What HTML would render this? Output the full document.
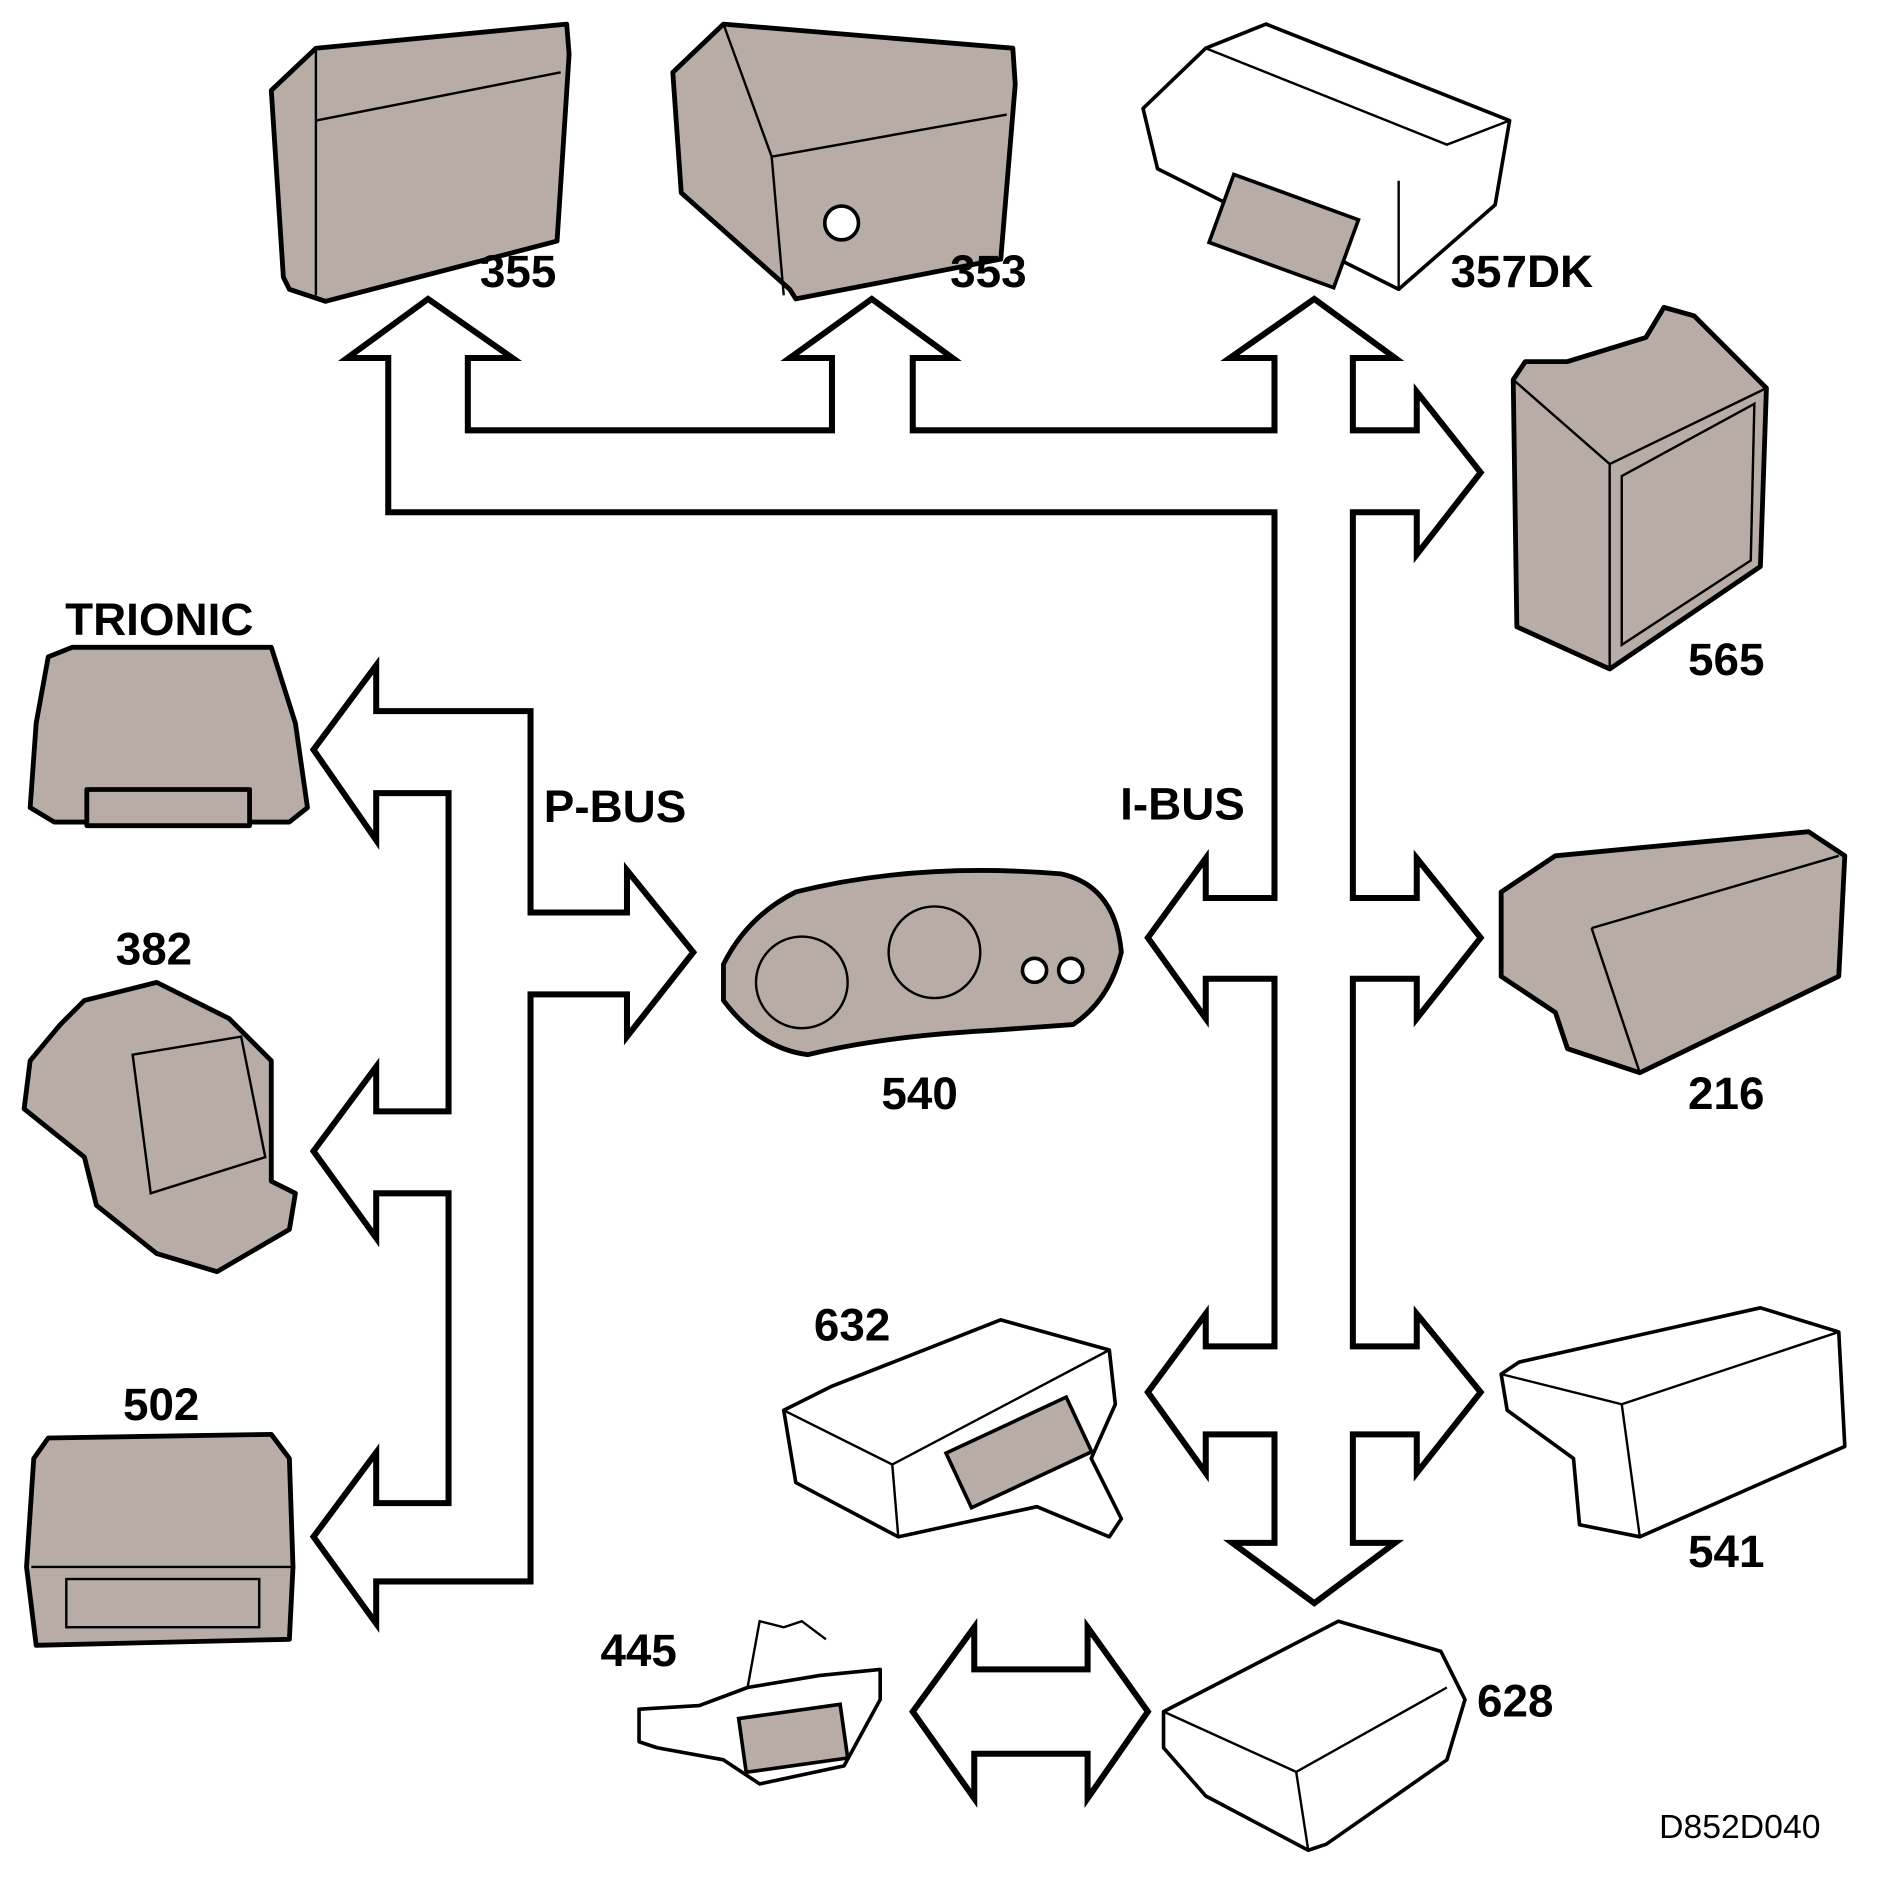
<!DOCTYPE html>
<html><head><meta charset="utf-8"><style>
html,body{margin:0;padding:0;background:#fff}
svg{display:block}
text{font-family:"Liberation Sans",sans-serif;font-weight:bold;fill:#000}
.d{fill:#b8aca7;stroke:#000;stroke-width:4;stroke-linejoin:round}
.w{fill:#fff;stroke:#000;stroke-width:3;stroke-linejoin:round}
.l{fill:none;stroke:#000;stroke-width:2}
</style></head><body>
<svg width="1887" height="1890" viewBox="0 0 1565 1568" preserveAspectRatio="none" xmlns="http://www.w3.org/2000/svg">
<g fill="#fff" stroke="#000" stroke-width="5" stroke-linejoin="miter">
<polygon points="322,297 288,297 355,248 425,297 388,297 388,357 690,357 690,297 655,297 723,248 790,297 757,297 757,357 1057,357 1057,297 1020,297 1090,248 1157,297 1122,297 1122,357 1175,357 1175,325 1228,392 1175,460 1175,425 1122,425 1122,745 1175,745 1175,712 1228,778 1175,845 1175,812 1122,812 1122,1117 1175,1117 1175,1090 1228,1155 1175,1222 1175,1190 1122,1190 1122,1280 1157,1280 1090,1330 1022,1280 1057,1280 1057,1190 1000,1190 1000,1222 952,1155 1000,1090 1000,1117 1057,1117 1057,812 1000,812 1000,845 952,778 1000,712 1000,745 1057,745 1057,425 322,425"/>
<polygon points="312,590 312,552 260,622 312,697 312,658 372,658 372,922 312,922 312,885 260,955 312,1027 312,990 372,990 372,1247 312,1247 312,1205 260,1275 312,1347 312,1312 440,1312 440,825 520,825 520,860 575,790 520,722 520,757 440,757 440,590"/>
<polygon points="757,1420 808,1350 808,1385 902,1385 902,1350 952,1420 902,1492 902,1455 808,1455 808,1492"/>
</g>
<polygon class="d" points="225,75 262,40 470,20 472,45 462,200 270,250 240,240 235,230"/>
<polyline class="l" points="262,40 262,245"/><polyline class="l" points="262,100 465,60"/>
<polygon class="d" points="558,60 600,20 840,40 842,70 830,215 660,248 655,240 565,160"/>
<polyline class="l" points="600,20 640,130 650,245"/><polyline class="l" points="640,130 835,95"/>
<circle cx="698" cy="185" r="14" class="w"/>
<polygon class="w" points="948,90 1000,40 1050,20 1252,100 1240,170 1160,240 960,140"/>
<polyline class="l" points="1000,40 1200,120 1252,100"/><polyline class="l" points="1160,240 1160,150"/>
<rect x="1010" y="160" width="110" height="60" fill="#b8aca7" stroke="#000" stroke-width="3" transform="rotate(20 1060 190)"/>
<polygon class="d" points="1255,315 1265,300 1300,300 1365,280 1380,255 1405,262 1465,322 1460,470 1335,555 1258,520"/>
<polyline class="l" points="1255,315 1335,385 1465,322"/><polyline class="l" points="1335,385 1335,555"/>
<polygon class="l" points="1345,395 1455,335 1452,465 1345,535"/>
<polygon class="d" points="40,545 60,537 225,537 245,600 255,670 240,682 45,682 25,670 30,600"/>
<rect x="72" y="655" width="135" height="30" class="d"/>
<polygon class="d" points="50,850 70,830 130,815 190,845 225,880 225,980 245,990 240,1020 180,1055 130,1040 80,1000 70,960 20,920 25,880"/>
<polygon class="l" points="110,875 200,860 220,960 125,990"/>
<polygon class="d" points="40,1193 225,1190 240,1210 243,1300 240,1360 30,1365 22,1300 28,1210"/>
<polyline class="l" points="26,1300 243,1300"/><rect x="55" y="1310" width="160" height="40" class="l"/>
<path class="d" d="M600,800 Q620,760 660,740 Q760,715 880,725 Q925,735 930,790 Q920,830 890,850 L820,855 Q730,860 670,875 Q630,870 600,830 Z"/>
<circle cx="775" cy="790" r="38" class="l"/><circle cx="665" cy="815" r="38" class="l"/>
<circle cx="858" cy="805" r="10" class="w"/><circle cx="888" cy="805" r="10" class="w"/>
<polygon class="d" points="1245,740 1290,710 1500,690 1530,710 1525,810 1360,890 1300,870 1290,840 1245,810"/>
<polyline class="l" points="1320,770 1525,710"/><polyline class="l" points="1320,770 1360,890"/>
<polygon class="w" points="650,1170 690,1150 830,1095 920,1120 925,1165 905,1210 930,1260 920,1275 860,1250 745,1275 660,1230"/>
<polyline class="l" points="650,1170 740,1215 920,1120"/><polyline class="l" points="740,1215 745,1275"/>
<rect x="790" y="1180" width="110" height="50" fill="#b8aca7" stroke="#000" stroke-width="3" transform="rotate(-25 845 1205)"/>
<polygon class="w" points="1245,1140 1260,1130 1460,1085 1525,1105 1530,1200 1360,1275 1310,1265 1305,1210 1250,1170"/>
<polyline class="l" points="1245,1140 1345,1165 1525,1105"/><polyline class="l" points="1345,1165 1360,1275"/>
<polygon class="w" points="965,1420 1110,1345 1195,1370 1215,1410 1200,1460 1100,1530 1085,1535 1000,1490 965,1450"/>
<polyline class="l" points="965,1420 1075,1470 1200,1400"/><polyline class="l" points="1075,1470 1085,1535"/>
<polygon class="w" points="530,1418 580,1415 620,1400 680,1390 730,1385 730,1410 700,1465 630,1480 600,1460 545,1450 530,1445"/>
<polyline class="l" points="620,1400 630,1345 650,1350 665,1345 685,1360"/>
<rect x="615" y="1420" width="85" height="45" fill="#b8aca7" stroke="#000" stroke-width="3" transform="rotate(-8 655 1440)"/>
<g font-size="38">
<text x="398" y="238">355</text>
<text x="788" y="238">353</text>
<text x="1203" y="238">357DK</text>
<text x="1400" y="560">565</text>
<text x="54" y="527">TRIONIC</text>
<text x="96" y="800">382</text>
<text x="102" y="1178">502</text>
<text x="451" y="682">P-BUS</text>
<text x="929" y="680">I-BUS</text>
<text x="731" y="920">540</text>
<text x="1400" y="920">216</text>
<text x="675" y="1112">632</text>
<text x="1400" y="1300">541</text>
<text x="498" y="1382">445</text>
<text x="1225" y="1424">628</text>
</g>
<text x="1376" y="1525" font-size="28" style="font-weight:normal">D852D040</text>
</svg>
</body></html>
